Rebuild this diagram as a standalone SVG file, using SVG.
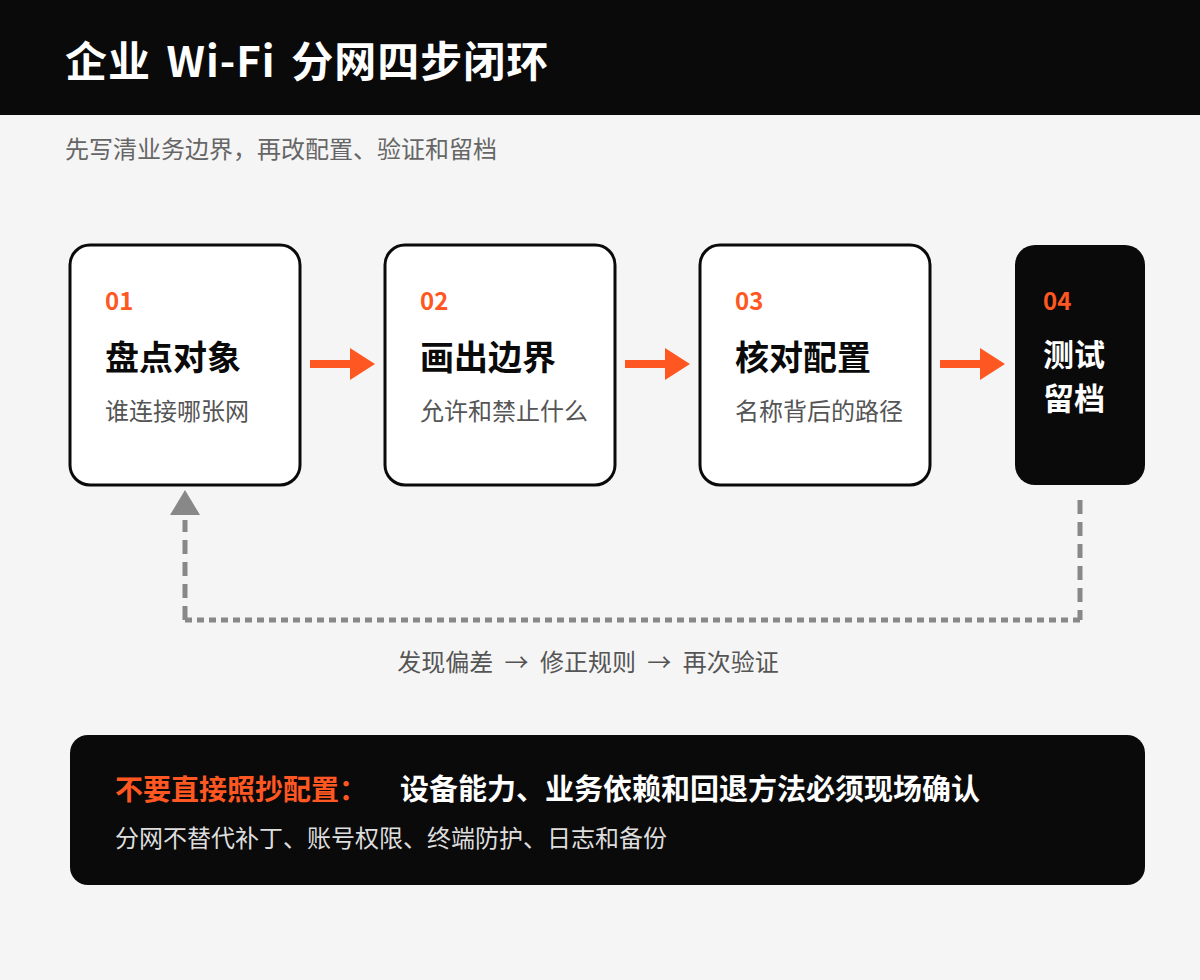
<svg xmlns="http://www.w3.org/2000/svg" width="1200" height="980" viewBox="0 0 1200 980">
<style>
text{font-family:"Noto Sans CJK SC","Noto Sans",sans-serif}
.num{font-size:24px;font-weight:700;fill:#ff5722}
.ttl{font-size:34px;font-weight:700;fill:#0a0a0a}
.sub{font-size:24px;fill:#555}
.card{fill:#fff;stroke:#0a0a0a;stroke-width:3}
.arr{fill:#ff5722}
.dash{fill:none;stroke:#888;stroke-width:5}
</style>
<rect width="1200" height="980" fill="#f5f5f5"/>
<g id="header">
<rect x="0" y="0" width="1200" height="115" fill="#0a0a0a"/>
<text x="65" y="77" font-size="42" font-weight="700" fill="#fff" letter-spacing="1" word-spacing="5">企业 Wi-Fi 分网四步闭环</text>
</g>
<text id="subtitle" x="65" y="158" font-size="24" fill="#666">先写清业务边界，再改配置、验证和留档</text>
<g id="step1">
<rect class="card" x="70" y="245" width="230" height="240" rx="20"/>
<text class="num" x="105" y="310">01</text>
<text class="ttl" x="105" y="370">盘点对象</text>
<text class="sub" x="105" y="420">谁连接哪张网</text>
</g>
<g id="step2">
<rect class="card" x="385" y="245" width="230" height="240" rx="20"/>
<text class="num" x="420" y="310">02</text>
<text class="ttl" x="420" y="370">画出边界</text>
<text class="sub" x="420" y="420">允许和禁止什么</text>
</g>
<g id="step3">
<rect class="card" x="700" y="245" width="230" height="240" rx="20"/>
<text class="num" x="735" y="310">03</text>
<text class="ttl" x="735" y="370">核对配置</text>
<text class="sub" x="735" y="420">名称背后的路径</text>
</g>
<g id="step4">
<rect x="1015" y="245" width="130" height="240" rx="20" fill="#0a0a0a"/>
<text class="num" x="1043" y="310">04</text>
<text x="1043" y="366" font-size="31" font-weight="700" fill="#fff">测试</text>
<text x="1043" y="410" font-size="31" font-weight="700" fill="#fff">留档</text>
</g>
<g id="connectors">
<path class="arr" d="M310 360 H350 V348 L375 364 L350 380 V368 H310 Z"/>
<path class="arr" d="M625 360 H665 V348 L690 364 L665 380 V368 H625 Z"/>
<path class="arr" d="M940 360 H980 V348 L1005 364 L980 380 V368 H940 Z"/>
<path class="dash" d="M1080 500 V620" stroke-dasharray="14 8"/>
<path class="dash" d="M1080 620 H185" stroke-dasharray="7 5"/>
<path class="dash" d="M185 620 V520" stroke-dasharray="14 8"/>
<polygon points="185,490 170,515 200,515" fill="#888"/>
</g>
<text id="loop-label" x="588" y="671" font-size="24" fill="#555" text-anchor="middle" word-spacing="6">发现偏差 → 修正规则 → 再次验证</text>
<g id="note">
<rect x="70" y="735" width="1075" height="150" rx="18" fill="#0a0a0a"/>
<text x="115" y="800" font-size="28" font-weight="700" fill="#ff5722">不要直接照抄配置：</text>
<text x="400" y="800" font-size="29" font-weight="700" fill="#fff">设备能力、业务依赖和回退方法必须现场确认</text>
<text x="115" y="847" font-size="24" fill="#ddd">分网不替代补丁、账号权限、终端防护、日志和备份</text>
</g>
</svg>
